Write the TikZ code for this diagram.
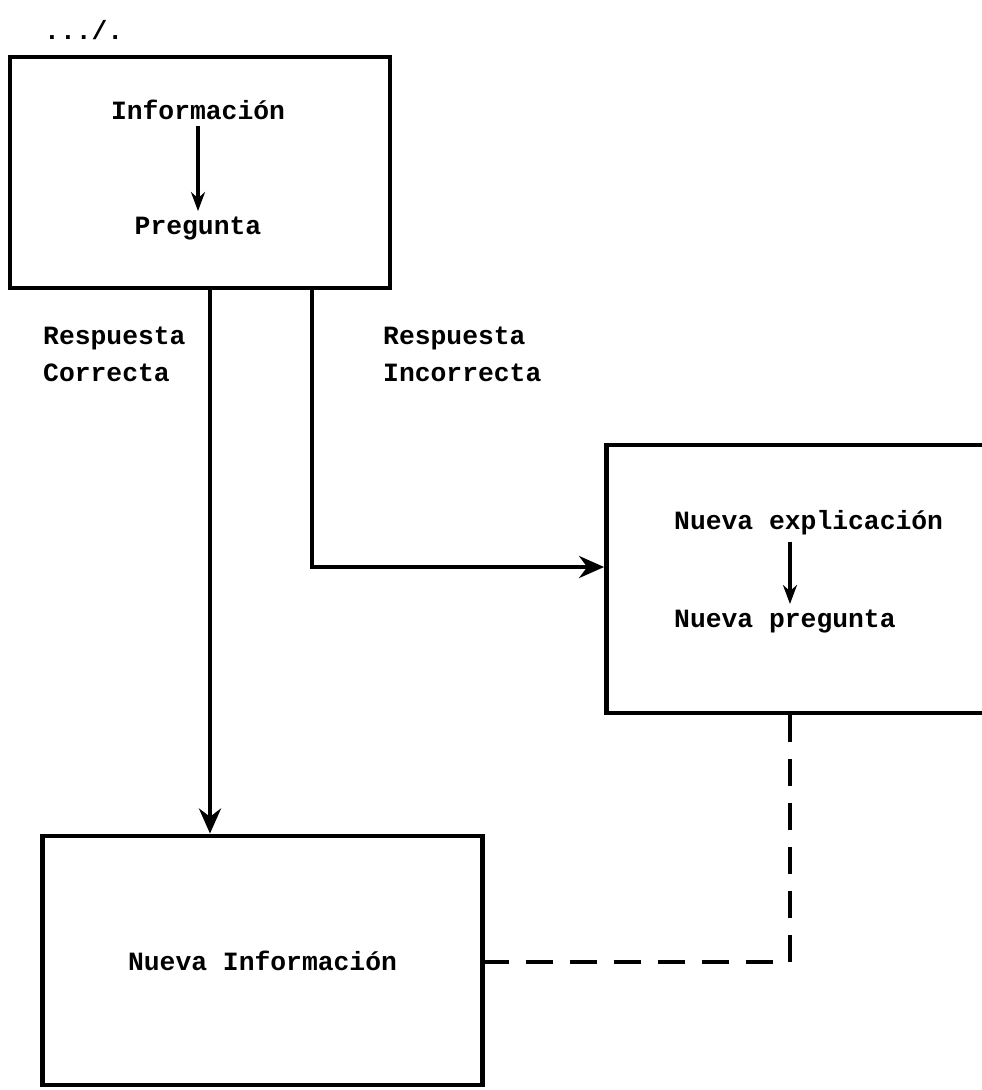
\documentclass[tikz,border=0pt]{standalone}
\usepackage{fontspec}
\setmonofont{Liberation Mono}
\usepackage{tikz}
\usetikzlibrary{arrows.meta, positioning}

\begin{document}
\begin{tikzpicture}[>={Stealth[length=0.5cm, width=0.44cm]}, x=0.02cm, y=-0.02cm,
    every node/.style={font=\ttfamily\bfseries\fontsize{15}{21}\selectfont},
    box/.style={draw, line width=2.8pt, inner sep=0pt},
    link/.style={line width=2.2pt},
    small/.style={-{Stealth[length=0.38cm, width=0.28cm]}, line width=2.2pt}]
    \useasboundingbox (0,0) rectangle (982,1090);
    \clip (0,0) rectangle (982,1090);
    \node[anchor=west] (page) at (38,30) {.../.};
    % the three boxes
    \node[box, minimum width=7.6cm, minimum height=4.62cm] (top) at (200,172.5) {};
    \node[box, minimum width=7.9cm, minimum height=5.36cm] (mid) at (804,579) {};
    \node[box, minimum width=8.82cm, minimum height=4.98cm] (bot) at (262.5,960.5) {Nueva Información};
    % inside the boxes
    \node (info) at (198,110) {Información};
    \node[below=1.7cm of info] (preg) {Pregunta};
    \draw[small] (info) -- (preg);
    \node[anchor=west] (expl) at (668,523) {Nueva explicación};
    \node[below=1.25cm of expl.south west, anchor=north west] (npreg) {Nueva pregunta};
    \draw[small] ([xshift=2.44cm]expl.south west) -- ([xshift=2.44cm]npreg.north west);
    % answers
    \node[anchor=west, align=left] (ok) at (37,354) {Respuesta\\Correcta};
    \node[anchor=west, align=left] (bad) at (377,354) {Respuesta\\Incorrecta};
    \coordinate (cx) at (210,0);
    \coordinate (cy) at (312,567);
    \coordinate (cz) at (790,962);
    \draw[->, link] (cx |- top.south) -- (cx |- bot.north);
    \draw[->, link] (cy |- top.south) -- (cy) -- (cy -| mid.west);
    \draw[link, line width=2.4pt, dash pattern=on 0.53cm off 0.35cm] (cz |- mid.south) -- (cz) -- (cz -| bot.east);
\end{tikzpicture}
\end{document}
